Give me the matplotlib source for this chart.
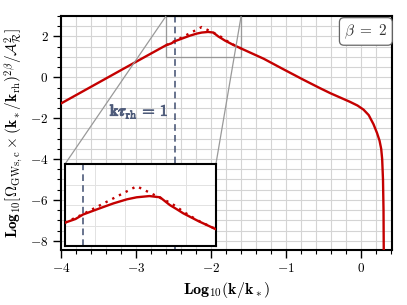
import numpy as np
import matplotlib
matplotlib.use("Agg")
import matplotlib.pyplot as plt
import matplotlib.patheffects as pe
from matplotlib.ticker import MultipleLocator
from mpl_toolkits.axes_grid1.inset_locator import mark_inset

plt.rcParams['font.family'] = 'serif'
plt.rcParams['font.serif'] = ['cmr10']
plt.rcParams['mathtext.fontset'] = 'cm'
plt.rcParams['axes.formatter.use_mathtext'] = True

# values
log_k = [-4.0, -3.5, -3.0, -2.6, -2.53, -2.48, -2.37, -2.28, -2.19, -2.125,
         -2.04, -1.97, -1.905, -1.86, -1.817, -1.717, -1.6, -1.3, -1.04,
         -0.77, -0.55, -0.41, -0.28, -0.15, -0.05, 0.03, 0.1, 0.164, 0.21,
         0.244, 0.266, 0.279, 0.29, 0.297, 0.301]
log_omega = [-1.28, -0.26, 0.76, 1.57, 1.66, 1.77, 1.92, 2.04, 2.14, 2.19,
             2.22, 2.19, 2.0, 1.9, 1.80, 1.61, 1.41, 0.91, 0.40,
             -0.12, -0.53, -0.78, -0.99, -1.2, -1.38, -1.58, -1.85, -2.3, -2.72,
             -3.1, -3.5, -4.0, -5.0, -6.5, -9.0]

log_k_approx = [-2.6, -2.48, -2.125, -1.905, -1.86, -1.817, -1.717, -1.6]
log_omega_approx = [1.57, 1.78, 2.46, 2.06, 1.96, 1.84, 1.62, 1.41]

k_rh_line = -2.48
beta_label = r'$\beta\ =\ 2$'

red = '#c40000'
slate = '#4e5b7a'

fig = plt.figure(figsize=(4.07, 3.05), dpi=100)
ax = fig.add_axes([61/407, 55/305, 331/407, 234/305])

ax.plot(log_k, log_omega, color=red, lw=1.7, zorder=3)
ax.plot(log_k_approx, log_omega_approx, color=red, lw=1.7, ls=(0, (1, 2.2)), zorder=3)
ax.axvline(k_rh_line, color=slate, lw=1.2, ls=(0, (4, 2.5)), zorder=2)

ax.set_xlim(-4, 0.41)
ax.set_ylim(-8.45, 3)
ax.xaxis.set_major_locator(MultipleLocator(1))
ax.xaxis.set_minor_locator(MultipleLocator(0.2))
ax.yaxis.set_major_locator(MultipleLocator(2))
ax.yaxis.set_minor_locator(MultipleLocator(0.5))
ax.grid(True, which='both', color='#d4d4d4', lw=0.8, zorder=0)
ax.set_axisbelow(True)
ax.tick_params(which='both', direction='out', labelsize=9.5)
ax.tick_params(which='major', length=5.5, width=1)
ax.tick_params(which='minor', length=3, width=0.8)
for s in ax.spines.values():
    s.set_linewidth(1.5)

ax.set_xlabel(r'$\mathbf{Log_{10}}(\mathbf{k}/\mathbf{k}_*)$', fontsize=11.5, labelpad=3)
ax.set_ylabel(r'$\mathbf{Log_{10}}[\mathbf{\Omega}_{\rm GWs,c}\times(\mathbf{k}_*/\mathbf{k}_{\rm rh})^{2\beta}/\mathcal{A}_\mathcal{R}^2]$',
              fontsize=11)
ax.yaxis.set_label_coords(-0.11, 0.5)

ax.text(-3.35, -1.68, r'$\mathbf{k}\boldsymbol{\tau}_{\rm rh}\,\mathbf{=}\,\mathbf{1}$', color=slate,
        fontsize=11.5, ha='left', va='center',
        path_effects=[pe.withStroke(linewidth=0.6, foreground=slate)])
ax.text(0.921, 0.934, beta_label, transform=ax.transAxes, fontsize=11, color='#333333',
        ha='center', va='center',
        bbox=dict(boxstyle='round,pad=0.3', fc='white', ec='#666666', lw=0.9))

# inset
axins = ax.inset_axes([0.012, 0.017, 0.456, 0.35])
axins.plot(log_k, log_omega, color=red, lw=1.7, zorder=3)
axins.plot(log_k_approx, log_omega_approx, color=red, lw=1.7, ls=(0, (1, 2.2)), zorder=3)
axins.axvline(k_rh_line, color=slate, lw=1.2, ls=(0, (4, 2.5)), zorder=2)
axins.set_xlim(-2.6, -1.6)
axins.set_ylim(1, 3)
axins.xaxis.set_major_locator(MultipleLocator(0.2))
axins.yaxis.set_major_locator(MultipleLocator(0.5))
axins.grid(True, color='#e2e2e2', lw=0.7, zorder=0)
axins.tick_params(length=0, labelbottom=False, labelleft=False)
for s in axins.spines.values():
    s.set_linewidth(1.5)
mark_inset(ax, axins, loc1=2, loc2=1, fc='none', ec='#999999', lw=0.9)

fig.savefig('out.png', dpi=100)
